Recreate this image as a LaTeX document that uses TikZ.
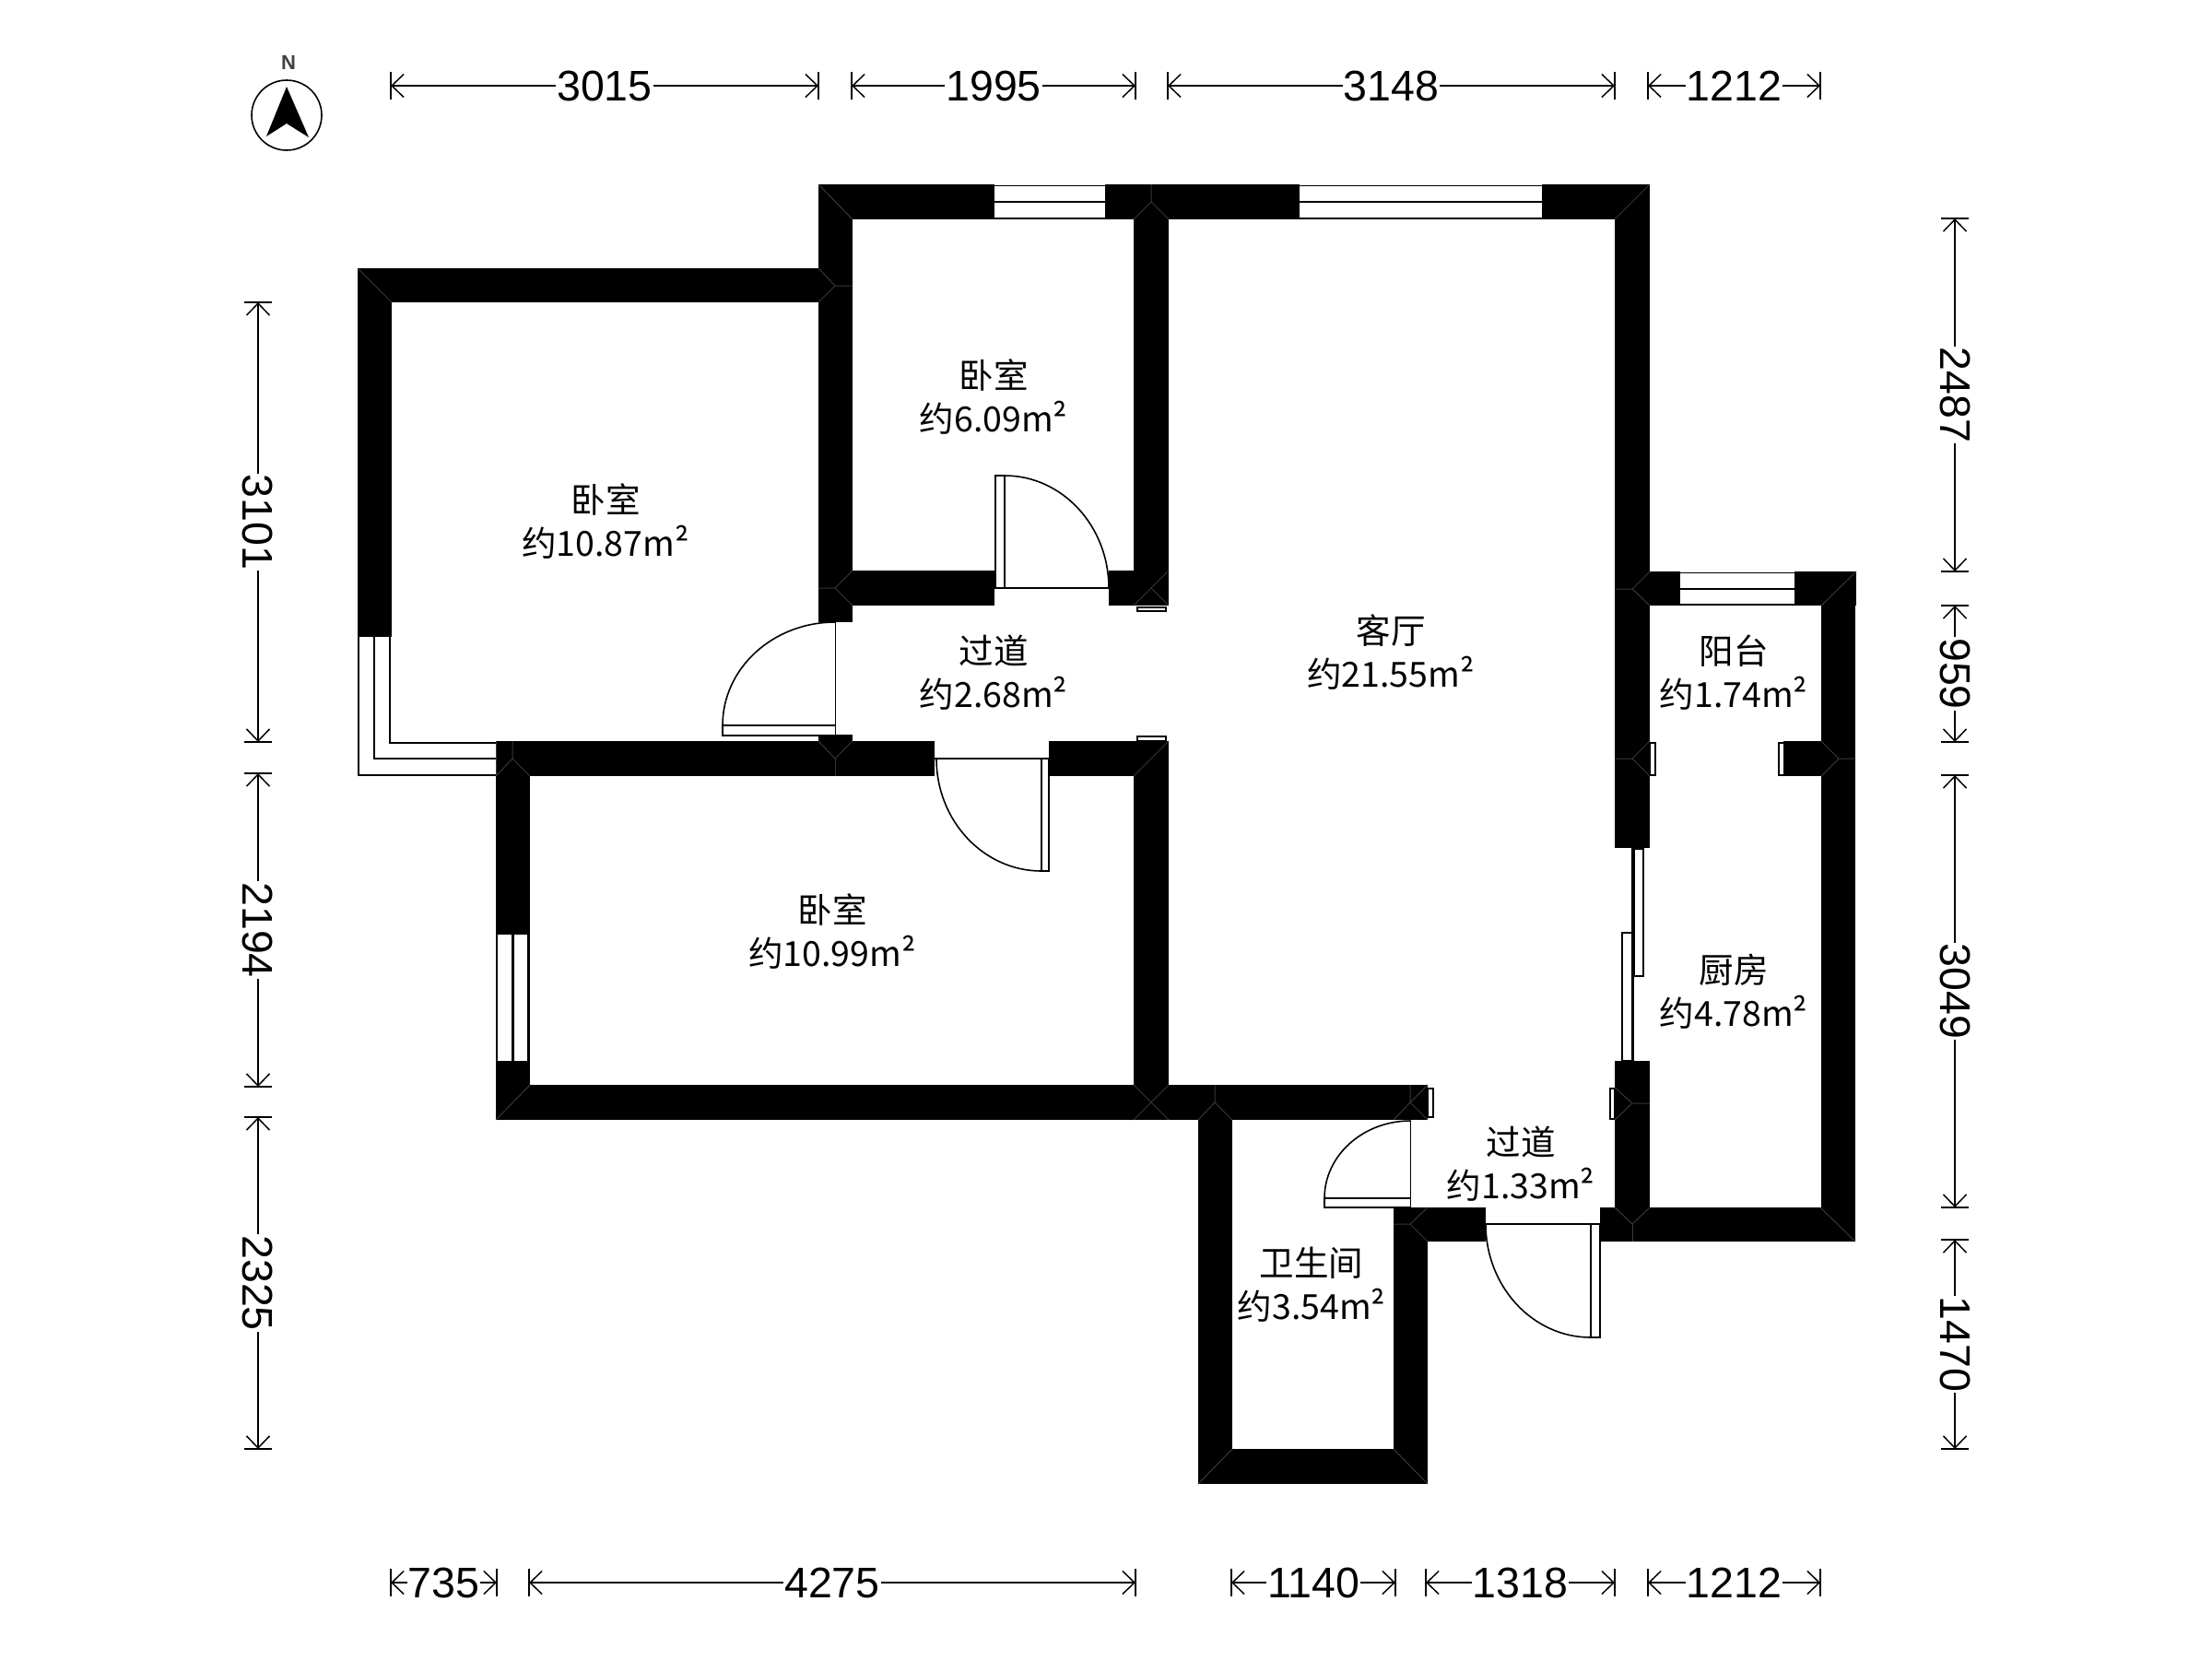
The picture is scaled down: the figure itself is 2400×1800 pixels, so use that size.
\documentclass[tikz,border=0pt]{standalone}
\usepackage{fontspec}
\usetikzlibrary{arrows.meta,calc}
\setmainfont{Liberation Sans}
\newfontfamily\cjkfont{Noto Sans CJK SC}
\tikzset{
  wall/.style={fill=black,draw=none},
  seam/.style={draw=black!78,line width=1pt},
  thin line/.style={draw=black,line width=1.6pt},
  glass/.style={draw=black,line width=1.6pt,fill=white},
  swing/.style={draw=black,line width=1.6pt},
  room/.style={align=center,font=\cjkfont\fontsize{37.5}{47}\selectfont,inner sep=0pt},
  dimlabel/.style={font=\fontsize{46.5}{46.5}\selectfont,inner sep=1pt},
  dimline/.style={draw=black,line width=1.5pt},
  dimarrow/.style={dimline,-{Straight Barb[length=13pt,width=25pt,line width=1.5pt]}}
}
\newcommand{\hdim}[5]{%
  \coordinate (#1a) at (#2,#4); \coordinate (#1b) at (#3,#4);
  \node[dimlabel] (#1) at ($(#1a)!0.5!(#1b)$) {#5};
  \draw[dimarrow] (#1) -- (#1a);
  \draw[dimarrow] (#1) -- (#1b);
  \draw[dimline] ($(#1a)+(0,-15)$) -- ($(#1a)+(0,15)$);
  \draw[dimline] ($(#1b)+(0,-15)$) -- ($(#1b)+(0,15)$);
}
\newcommand{\vdim}[5]{%
  \coordinate (#1a) at (#4,#2); \coordinate (#1b) at (#4,#3);
  \node[dimlabel,rotate=-90] (#1) at ($(#1a)!0.5!(#1b)$) {#5};
  \draw[dimarrow] (#1) -- (#1a);
  \draw[dimarrow] (#1) -- (#1b);
  \draw[dimline] ($(#1a)+(-15,0)$) -- ($(#1a)+(15,0)$);
  \draw[dimline] ($(#1b)+(-15,0)$) -- ($(#1b)+(15,0)$);
}
\newcommand{\wallbox}[4]{\fill[wall] (#1,#2) rectangle (#3,#4);}
\begin{document}
\begin{tikzpicture}[x=1pt,y=-1pt]
\useasboundingbox[fill=white] (0,0) rectangle (2400,1800);

% door swings (the picture's y axis runs down, so 90 is straight down here)
\draw[swing] (1080,638) -- (1203,638);
\draw[glass] (1080,516) rectangle (1090,638);
\draw[swing] (1090,516) arc[start angle=270,end angle=360,x radius=113,y radius=122];
\draw[swing] (906.5,675) -- (906.5,797);
\draw[glass] (784,787) rectangle (906.5,798);
\draw[swing] (784,787) arc[start angle=180,end angle=270,x radius=122,y radius=112];
\draw[swing] (1014,823) -- (1138,823);
\draw[glass] (1130,823) rectangle (1138,945);
\draw[swing] (1016,823) arc[start angle=180,end angle=90,x radius=114,y radius=122];
\draw[swing] (1530.5,1216) -- (1530.5,1310);
\draw[glass] (1437,1300) rectangle (1530.5,1310);
\draw[swing] (1437,1300) arc[start angle=180,end angle=270,x radius=93.5,y radius=84];
\draw[swing] (1612,1328) -- (1736,1328);
\draw[glass] (1726,1328) rectangle (1736,1451);
\draw[swing] (1612,1328) arc[start angle=180,end angle=90,x radius=114,y radius=123];

% sliding door of the kitchen
\draw[glass] (1773,921) rectangle (1783,1059);
\draw[glass] (1760,1012) rectangle (1771.5,1151);
\draw[thin line,line width=2.5pt] (1771.5,920) -- (1771.5,1151);

% windows
\draw[thin line] (1079,201.5) -- (1199,201.5);
\draw[thin line,line width=2.5pt] (1079,219) -- (1199,219);
\draw[thin line,line width=2.5pt] (1079,237) -- (1199,237);
\draw[thin line] (1410,201.5) -- (1673,201.5);
\draw[thin line,line width=2.5pt] (1410,219) -- (1673,219);
\draw[thin line,line width=2.5pt] (1410,237) -- (1673,237);
\draw[thin line] (1823,621.5) -- (1947,621.5);
\draw[thin line] (1823,639) -- (1947,639);
\draw[thin line,line width=2pt] (1823,656) -- (1947,656);
\draw[thin line] (389,691) -- (389,841) -- (538,841);
\draw[thin line] (406,691) -- (406,823) -- (538,823);
\draw[thin line] (423,691) -- (423,806) -- (538,806);
\draw[thin line,line width=2.5pt] (539,1014) -- (539,1151);
\draw[thin line,line width=2.5pt] (556.5,1014) -- (556.5,1151);
\draw[thin line,line width=2.5pt] (573.5,1014) -- (573.5,1151);

% small wall ends
\draw[glass] (1234,659) rectangle (1265,663);
\draw[glass] (1234,799) rectangle (1265,804);
\draw[glass] (1549,1181) rectangle (1555,1212);
\draw[glass] (1790,806) rectangle (1796,841);
\draw[glass] (1930,806) rectangle (1936,841);
\draw[glass] (1747,1181) rectangle (1752,1214);

% walls
\wallbox{388}{291}{888}{328}
\wallbox{388}{291}{425}{691}
\wallbox{888}{200}{925}{675}
\wallbox{888}{200}{1079}{238}
\wallbox{1199}{200}{1410}{238}
\wallbox{1673}{200}{1790}{238}
\wallbox{1752}{200}{1790}{920}
\wallbox{1230}{200}{1268}{657}
\wallbox{925}{619}{1079}{657}
\wallbox{1203}{619}{1268}{657}
\wallbox{538}{804}{1014}{842}
\wallbox{888}{797}{925}{804}
\wallbox{1138}{804}{1268}{842}
\wallbox{1230}{804}{1268}{1215}
\wallbox{538}{804}{575}{1014}
\wallbox{538}{1151}{575}{1215}
\wallbox{538}{1177}{1549}{1215}
\wallbox{1300}{1215}{1337}{1610}
\wallbox{1300}{1572}{1549}{1610}
\wallbox{1512}{1310}{1549}{1610}
\wallbox{1512}{1310}{1612}{1347}
\wallbox{1736}{1310}{2013}{1347}
\wallbox{1752}{1151}{1790}{1347}
\wallbox{1790}{620}{1823}{657}
\wallbox{1947}{620}{2014}{657}
\wallbox{1976}{620}{2013}{1347}
\wallbox{1935}{804}{1976}{842}

% seams where walls meet
\draw[seam] (388,291) -- (425,328);
\draw[seam] (888,200) -- (925,238);
\draw[seam] (888,291) -- (906,310) -- (925,310);
\draw[seam] (888,328) -- (906,310);
\draw[seam] (1249,200) -- (1249,219) -- (1230,238);
\draw[seam] (1249,219) -- (1268,238);
\draw[seam] (1790,200) -- (1752,238);
\draw[seam] (1771,639) -- (1790,620);
\draw[seam] (1752,639) -- (1771,639) -- (1790,657);
\draw[seam] (2014,620) -- (1976,657);
\draw[seam] (1752,823) -- (1771,823) -- (1790,804);
\draw[seam] (1771,823) -- (1790,842);
\draw[seam] (2013,823) -- (1995,823) -- (1976,804);
\draw[seam] (1995,823) -- (1976,842);
\draw[seam] (888,638) -- (906,638) -- (925,619);
\draw[seam] (906,638) -- (925,657);
\draw[seam] (1268,619) -- (1249,638) -- (1268,657);
\draw[seam] (1249,638) -- (1230,657);
\draw[seam] (888,804) -- (906,823) -- (925,804);
\draw[seam] (906,823) -- (906,842);
\draw[seam] (1268,804) -- (1249,823) -- (1230,842);
\draw[seam] (538,804) -- (538,842);
\draw[seam] (556,804) -- (556,823) -- (538,842);
\draw[seam] (556,823) -- (575,842);
\draw[seam] (538,1215) -- (575,1177);
\draw[seam] (1268,1177) -- (1249,1196) -- (1230,1177);
\draw[seam] (1249,1196) -- (1230,1215);
\draw[seam] (1249,1196) -- (1268,1215);
\draw[seam] (1318,1177) -- (1318,1196) -- (1300,1215);
\draw[seam] (1318,1196) -- (1337,1215);
\draw[seam] (1530,1177) -- (1530,1196) -- (1549,1177);
\draw[seam] (1530,1196) -- (1512,1215);
\draw[seam] (1530,1196) -- (1549,1215);
\draw[seam] (1300,1610) -- (1337,1572);
\draw[seam] (1549,1610) -- (1512,1572);
\draw[seam] (1512,1328) -- (1530,1328) -- (1549,1310);
\draw[seam] (1530,1328) -- (1549,1347);
\draw[seam] (1790,1197) -- (1771,1197) -- (1752,1180);
\draw[seam] (1771,1197) -- (1752,1215);
\draw[seam] (1752,1310) -- (1771,1328) -- (1790,1310);
\draw[seam] (1771,1328) -- (1771,1347);
\draw[seam] (2013,1347) -- (1975,1310);

% room labels
\node[room] (r1) at (657,565) {卧室\\约10.87m²};
\node[room] (r2) at (1078,430) {卧室\\约6.09m²};
\node[room] (r3) at (1078,730) {过道\\约2.68m²};
\node[room] (r4) at (1509,708) {客厅\\约21.55m²};
\node[room] (r5) at (1881,730) {阳台\\约1.74m²};
\node[room] (r6) at (1881,1076) {厨房\\约4.78m²};
\node[room] (r7) at (903,1010) {卧室\\约10.99m²};
\node[room] (r8) at (1650,1263) {过道\\约1.33m²};
\node[room] (r9) at (1423,1394) {卫生间\\约3.54m²};

% compass
\node[draw=black,circle,line width=1.6pt,minimum size=76pt,inner sep=0pt] (rose) at (311,125) {};
\fill[black] (311,94) -- (289,148) -- (311,134) -- (335,149) -- cycle;
\node[font=\bfseries\fontsize{22}{22}\selectfont,text=black!75,inner sep=0pt] (north) at (313,68) {N};

% dimensions
\hdim{t1}{424}{888}{93}{3015}
\hdim{t2}{924}{1232}{93}{1995}
\hdim{t3}{1267}{1752}{93}{3148}
\hdim{t4}{1788}{1975}{93}{1212}
\hdim{b1}{424}{539}{1717}{735}
\hdim{b2}{574}{1232}{1717}{4275}
\hdim{b3}{1336}{1514}{1717}{1140}
\hdim{b4}{1547}{1752}{1717}{1318}
\hdim{b5}{1788}{1975}{1717}{1212}
\vdim{l1}{328}{805}{280}{3101}
\vdim{l2}{839}{1179}{280}{2194}
\vdim{l3}{1212}{1572}{280}{2325}
\vdim{r10}{237}{620}{2121}{2487}
\vdim{r11}{657}{805}{2121}{959}
\vdim{r12}{841}{1310}{2121}{3049}
\vdim{r13}{1345}{1572}{2121}{1470}
\end{tikzpicture}
\end{document}
